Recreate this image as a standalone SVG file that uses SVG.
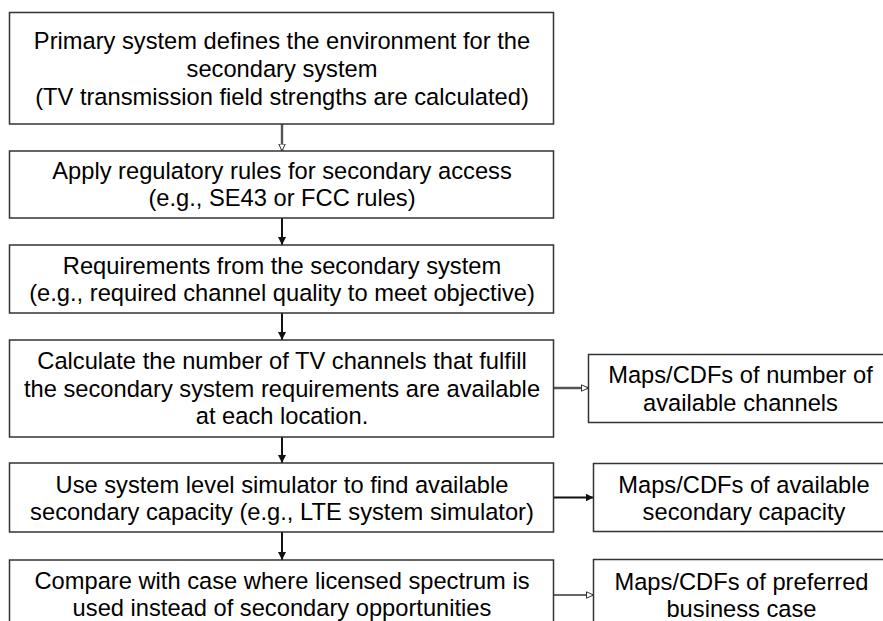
<svg xmlns="http://www.w3.org/2000/svg" width="883" height="621" viewBox="0 0 883 621">
<style>
  .box { fill: #ffffff; stroke: #333333; stroke-width: 1.5; }
  .t { font-family: "Liberation Sans", Arial, sans-serif; font-size: 23.7px; fill: #000000; text-anchor: middle; }
  .solid { stroke: #111111; stroke-width: 2; fill: none; }
  .gray { stroke: #555555; stroke-width: 2.4; fill: none; }
  .thin { stroke: #333333; stroke-width: 1.5; fill: none; }
</style>
<defs>
  <marker id="filled" markerUnits="userSpaceOnUse" markerWidth="9" markerHeight="9" refX="8" refY="4" orient="auto">
    <path d="M0,0 L8,4 L0,8 z" fill="#111111"/>
  </marker>
  <marker id="open" markerUnits="userSpaceOnUse" markerWidth="9" markerHeight="9" refX="7.5" refY="4" orient="auto">
    <path d="M0.5,0.8 L7.5,4 L0.5,7.2 z" fill="#ffffff" stroke="#333333" stroke-width="1"/>
  </marker>
</defs>
<rect x="0" y="0" width="883" height="621" fill="#ffffff"/>

<g id="connectors">
  <line class="gray" x1="282" y1="124" x2="282" y2="151" marker-end="url(#open)"/>
  <line class="solid" x1="282" y1="218" x2="282" y2="245" marker-end="url(#filled)"/>
  <line class="solid" x1="282" y1="313" x2="282" y2="340" marker-end="url(#filled)"/>
  <line class="solid" x1="282" y1="437" x2="282" y2="463" marker-end="url(#filled)"/>
  <line class="solid" x1="282" y1="532" x2="282" y2="560" marker-end="url(#filled)"/>
  <line class="gray" x1="553" y1="388" x2="588.5" y2="388" marker-end="url(#open)"/>
  <line class="solid" x1="553" y1="497.5" x2="593.5" y2="497.5" marker-end="url(#filled)"/>
  <line class="thin" x1="553" y1="595" x2="593.5" y2="595" marker-end="url(#open)"/>
</g>

<g id="node-primary">
  <rect class="box" x="9.5" y="12.5" width="544" height="111.5"/>
  <text class="t" x="282" y="48.5">Primary system defines the environment for the</text>
  <text class="t" x="282" y="76.5">secondary system</text>
  <text class="t" x="282" y="104.5">(TV transmission field strengths are calculated)</text>
</g>

<g id="node-regulatory">
  <rect class="box" x="9.5" y="151" width="544" height="67"/>
  <text class="t" x="282" y="179">Apply regulatory rules for secondary access</text>
  <text class="t" x="282" y="206">(e.g., SE43 or FCC rules)</text>
</g>

<g id="node-requirements">
  <rect class="box" x="9.5" y="245" width="544" height="68"/>
  <text class="t" x="282" y="273.5">Requirements from the secondary system</text>
  <text class="t" x="282" y="300.5">(e.g., required channel quality to meet objective)</text>
</g>

<g id="node-calculate">
  <rect class="box" x="9.5" y="340" width="544" height="97"/>
  <text class="t" x="282" y="369">Calculate the number of TV channels that fulfill</text>
  <text class="t" x="282" y="396.5">the secondary system requirements are available</text>
  <text class="t" x="282" y="424">at each location.</text>
</g>

<g id="node-simulator">
  <rect class="box" x="9.5" y="463" width="544" height="69"/>
  <text class="t" x="282" y="492.5">Use system level simulator to find available</text>
  <text class="t" x="282" y="519.5">secondary capacity (e.g., LTE system simulator)</text>
</g>

<g id="node-compare">
  <rect class="box" x="9.5" y="560" width="544" height="80"/>
  <text class="t" x="282" y="588.5">Compare with case where licensed spectrum is</text>
  <text class="t" x="282" y="615.5">used instead of secondary opportunities</text>
</g>

<g id="node-maps-channels">
  <rect class="box" x="588.5" y="354.5" width="310" height="68"/>
  <text class="t" x="740.5" y="383">Maps/CDFs of number of</text>
  <text class="t" x="740.5" y="411">available channels</text>
</g>

<g id="node-maps-capacity">
  <rect class="box" x="593.5" y="463.5" width="310" height="68"/>
  <text class="t" x="744" y="492.5">Maps/CDFs of available</text>
  <text class="t" x="744" y="520">secondary capacity</text>
</g>

<g id="node-maps-business">
  <rect class="box" x="593.5" y="559.5" width="310" height="80"/>
  <text class="t" x="741.5" y="590">Maps/CDFs of preferred</text>
  <text class="t" x="741.5" y="617">business case</text>
</g>
</svg>
